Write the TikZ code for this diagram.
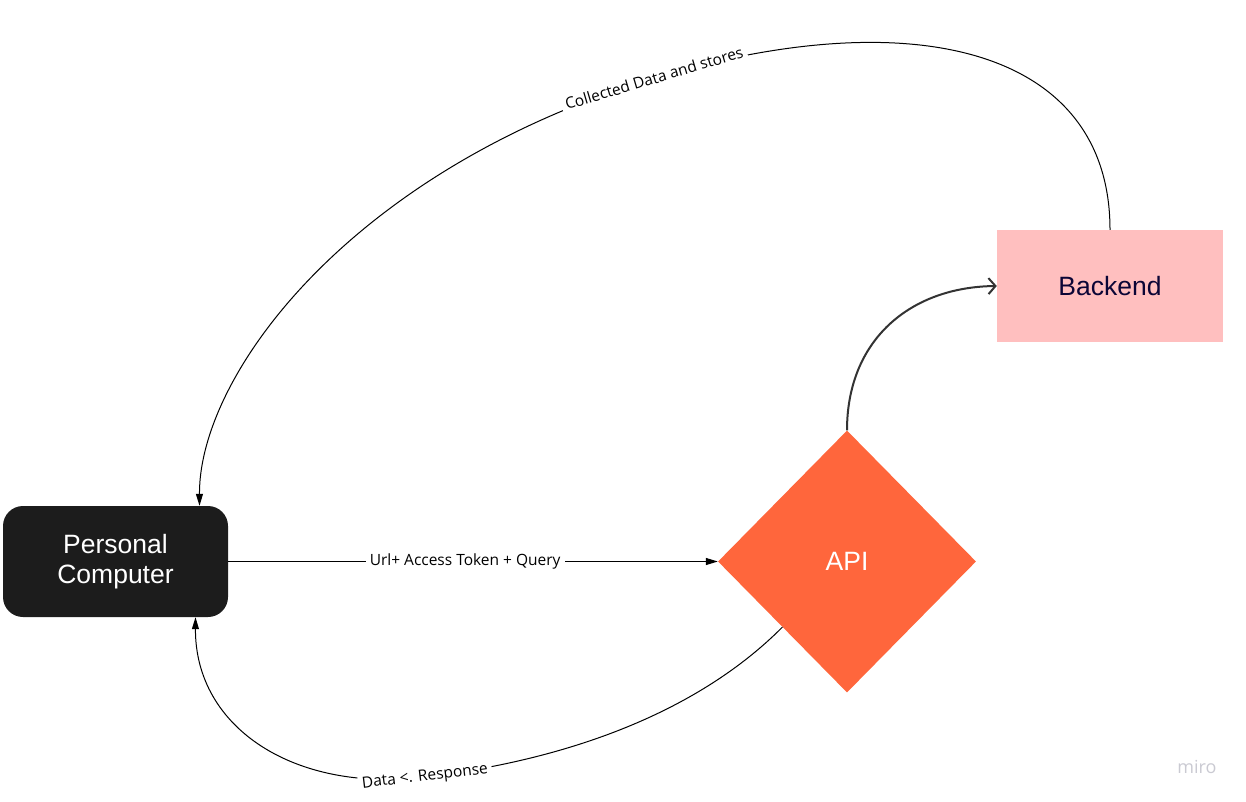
\documentclass[tikz,border=0pt]{standalone}
\usepackage{fontspec}
\setmainfont{Liberation Sans}
\newfontfamily\opensans{Open Sans}
\usetikzlibrary{shapes.geometric,arrows.meta}
\definecolor{pcfill}{HTML}{1C1C1C}
\definecolor{apifill}{HTML}{FF663C}
\definecolor{befill}{HTML}{FFBFBF}
\definecolor{betext}{HTML}{0B0536}
\definecolor{thickcol}{HTML}{333333}
\definecolor{wm}{HTML}{CACAD2}
\tikzset{
  pcbox/.style={rectangle, rounded corners=20pt, fill=pcfill, text=white,
    minimum width=225pt, minimum height=111pt, align=center,
    font=\fontsize{26.5}{30}\selectfont},
  bebox/.style={rectangle, fill=befill, text=betext,
    minimum width=226pt, minimum height=112pt,
    font=\fontsize{26.5}{30}\selectfont},
  apibox/.style={diamond, fill=apifill, text=white, inner sep=0pt,
    minimum width=258pt, minimum height=262pt,
    font=\fontsize{26.5}{30}\selectfont},
  conn/.style={line width=1pt, black, -{Triangle[length=12pt,width=7pt]}},
  thickconn/.style={line width=2pt, draw=thickcol, -{Straight Barb[length=7pt,width=16pt,line width=2pt]}},
  lab/.style={fill=white, inner sep=4pt, text=black, font=\opensans\fontsize{15.5}{17}\selectfont}
}
\begin{document}
\begin{tikzpicture}[x=1pt,y=-1pt]
\useasboundingbox (0,0) rectangle (1246,802);
\node[pcbox] (pc) at (115.5,561.5) {Personal\\Computer};
\node[bebox] (be) at (1110,286) {Backend};
\node[apibox] (api) at (847,561.5) {API};
\coordinate (m1) at (654,78);
\coordinate (m2) at (425,777);
% PC -> API
\draw[conn] (pc.east) -- node[lab, pos=0.484]{Url+ Access Token + Query} (api.west);
% API -> Backend
\draw[thickconn] (api.north) .. controls (847,340) and (910,287) .. (be.west);
% Backend -> PC
\draw[conn] (be.north) .. controls (1110,50) and (916,0) .. (m1)
  node[lab, sloped, pos=1]{Collected Data and stores}
  .. controls (350,170) and (199,375) .. ([xshift=84pt]pc.north);
% API -> PC
\draw[conn] (api.south west) .. controls (701,709) and (575,759) .. (m2)
  node[lab, sloped, pos=1]{Data <. Response}
  .. controls (295,793) and (195,728) .. ([xshift=80pt]pc.south);
\node[text=wm, font=\opensans\fontsize{18}{20}\selectfont] (wmark) at (1197,767) {miro};
\end{tikzpicture}
\end{document}
